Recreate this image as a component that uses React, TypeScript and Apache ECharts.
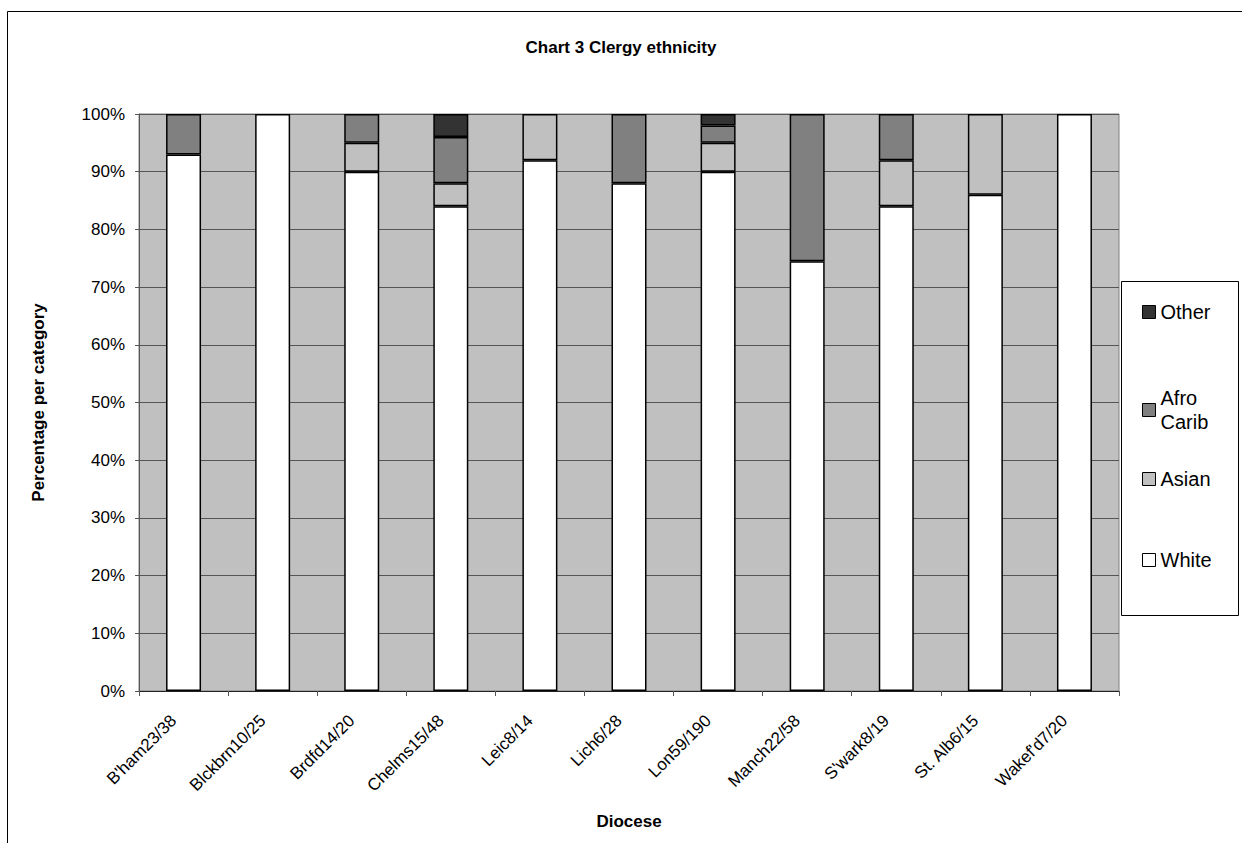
import React, { useEffect, useRef } from "react";
import * as echarts from "echarts";

const categories = [
  "B'ham23/38",
  "Blckbrn10/25",
  "Brdfd14/20",
  "Chelms15/48",
  "Leic8/14",
  "Lich6/28",
  "Lon59/190",
  "Manch22/58",
  "S'wark8/19",
  "St. Alb6/15",
  "Wakef'd7/20",
];
const white = [93, 100, 90, 84, 92, 88, 90, 74.5, 84, 86, 100];
const asian = [0, 0, 5, 4, 8, 0, 5, 0, 8, 14, 0];
const afroCarib = [7, 0, 5, 8, 0, 12, 3, 25.5, 8, 0, 0];
const other = [0, 0, 0, 4, 0, 0, 2, 0, 0, 0, 0];
const yTicks = [0, 10, 20, 30, 40, 50, 60, 70, 80, 90, 100];

const FONT = "'Liberation Sans', Arial, sans-serif";

export default function App() {
  const ref = useRef<HTMLDivElement>(null);
  useEffect(() => {
    if (!ref.current) return;
    const chart = echarts.init(ref.current, null, { renderer: "svg" });
    const clean = (arr: number[]) => arr.map((v) => (v === 0 ? "-" : v));
    const mkSeries = (name: string, data: number[], color: string) => ({
      name,
      type: "bar",
      stack: "total",
      barWidth: 35,
      data: clean(data),
      itemStyle: { color, borderColor: "#000", borderWidth: 1.5 },
      emphasis: { disabled: true },
    });
    const legendBase = {
      left: 1142,
      orient: "vertical",
      padding: 0,
      itemWidth: 13,
      itemHeight: 13,
      icon: "rect",
      selectedMode: false,
      itemStyle: { borderColor: "#000", borderWidth: 1 },
      textStyle: { fontFamily: FONT, fontSize: 20, color: "#000", lineHeight: 24 },
    };
    chart.setOption({
      animation: false,
      backgroundColor: "#fff",
      textStyle: { fontFamily: FONT },
      title: {
        text: "Chart 3 Clergy ethnicity",
        left: "center",
        top: 34,
        textStyle: { fontFamily: FONT, fontSize: 17, fontWeight: "bold", color: "#000" },
      },
      grid: {
        left: 139,
        right: 123,
        top: 114,
        bottom: 152,
        show: true,
        backgroundColor: "#C0C0C0",
        borderColor: "#808080",
        borderWidth: 1,
      },
      legend: [
        { ...legendBase, top: 300, data: ["Other"] },
        {
          ...legendBase,
          top: 386,
          data: ["Afro Carib"],
          formatter: () => "Afro\nCarib",
        },
        { ...legendBase, top: 467, data: ["Asian"] },
        { ...legendBase, top: 548, data: ["White"] },
      ],
      xAxis: {
        type: "category",
        data: categories,
        name: "Diocese",
        nameLocation: "middle",
        nameGap: 122,
        nameTextStyle: { fontFamily: FONT, fontSize: 17, fontWeight: "bold", color: "#000" },
        axisLine: { lineStyle: { color: "#222", width: 1 } },
        axisTick: { show: true, length: 5, lineStyle: { color: "#555" } },
        axisLabel: {
          interval: 0,
          rotate: 45,
          margin: 17,
          padding: [0, 14, 0, 0],
          fontFamily: FONT,
          fontSize: 17,
          color: "#000",
        },
      },
      yAxis: {
        type: "value",
        min: yTicks[0],
        max: yTicks[yTicks.length - 1],
        interval: 10,
        name: "Percentage per category",
        nameLocation: "middle",
        nameGap: 92,
        nameTextStyle: { fontFamily: FONT, fontSize: 17, fontWeight: "bold", color: "#000" },
        axisLine: { show: true, lineStyle: { color: "#555" } },
        axisTick: { show: true, length: 4, lineStyle: { color: "#555" } },
        splitLine: { show: true, lineStyle: { color: "#555", width: 1 } },
        axisLabel: {
          formatter: "{value}%",
          margin: 14,
          fontFamily: FONT,
          fontSize: 17,
          color: "#000",
        },
      },
      graphic: [
        {
          type: "rect",
          shape: { x: 7.5, y: 11.5, width: 1240, height: 840 },
          style: { fill: "none", stroke: "#000", lineWidth: 1 },
          silent: true,
          z: -1,
        },
        {
          type: "rect",
          shape: { x: 1121.5, y: 281.5, width: 117, height: 334 },
          style: { fill: "#fff", stroke: "#000", lineWidth: 1 },
          silent: true,
          z: -1,
        },
      ],
      series: [
        mkSeries("White", white, "#FFFFFF"),
        mkSeries("Asian", asian, "#C0C0C0"),
        mkSeries("Afro Carib", afroCarib, "#808080"),
        mkSeries("Other", other, "#333333"),
      ],
    });
    return () => chart.dispose();
  }, []);
  return (
    <div
      ref={ref}
      style={{ position: "absolute", left: 0, top: 0, width: 1242, height: 843 }}
    />
  );
}
